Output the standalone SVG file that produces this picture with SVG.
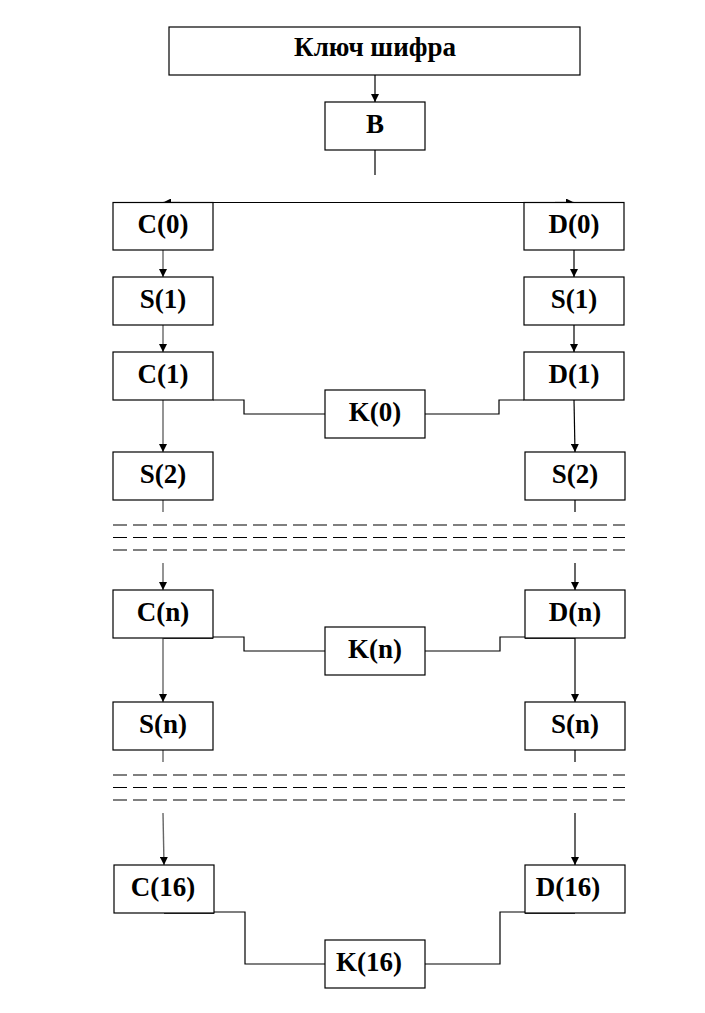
<svg xmlns="http://www.w3.org/2000/svg" width="705" height="1013" viewBox="0 0 705 1013">
<defs>
<style>
.box{fill:#fff;stroke:#000;stroke-width:1.2}
.ln{fill:none;stroke:#000;stroke-width:1.2}
.lg{fill:none;stroke:#666;stroke-width:1.4}
.ar{marker-end:url(#ah)}
.dash{fill:none;stroke:#000;stroke-width:1.2;stroke-dasharray:14 6}
.th{stroke:#000;stroke-width:2.4}
</style>
<marker id="ah" viewBox="0 0 10 10" refX="10" refY="5" markerWidth="8" markerHeight="8" markerUnits="userSpaceOnUse" orient="auto">
<path d="M0,0 L10,5 L0,10 Z" fill="#000"/>
</marker>
</defs>
<rect width="705" height="1013" fill="#fff"/>
<g id="connectors">
<line class="ln ar" x1="375" y1="75" x2="375" y2="102"/>
<line class="ln" x1="375" y1="150" x2="375" y2="175"/>
<line class="ln" x1="170" y1="202.5" x2="568" y2="202.5"/>
<line class="ln ar" x1="180" y1="202.5" x2="163" y2="202.5"/>
<line class="ln ar" x1="555" y1="202.5" x2="574" y2="202.5"/>
<line class="lg ar" x1="163" y1="250" x2="163" y2="277"/>
<line class="ln ar" x1="574" y1="250" x2="574" y2="277"/>
<line class="lg ar" x1="163" y1="325" x2="163" y2="352"/>
<line class="ln ar" x1="574" y1="325" x2="574" y2="352"/>
<polyline class="ln" points="213,400 244,400 244,414 325,414"/>
<polyline class="ln" points="425,414 499,414 499,400 524,400"/>
<line class="lg ar" x1="163" y1="400" x2="163" y2="452"/>
<line class="ln ar" x1="574" y1="400" x2="575" y2="452"/>
<line class="lg" x1="163" y1="500" x2="163" y2="512"/>
<line class="ln" x1="575" y1="500" x2="575" y2="512"/>
<line class="dash" x1="113" y1="525" x2="625" y2="525"/>
<line class="dash" x1="113" y1="537.5" x2="625" y2="537.5"/>
<line class="dash" x1="113" y1="550" x2="625" y2="550"/>
<line class="lg ar" x1="163" y1="563" x2="163" y2="590"/>
<line class="ln ar" x1="575" y1="563" x2="575" y2="590"/>
<polyline class="ln" points="213,637 244,637 244,651 325,651"/>
<polyline class="ln" points="425,651 500,651 500,637 525,637"/>
<line class="th" x1="163" y1="637.5" x2="213" y2="637.5"/>
<line class="th" x1="525" y1="637.5" x2="575" y2="637.5"/>
<line class="lg ar" x1="163" y1="638" x2="163" y2="702"/>
<line class="ln ar" x1="575" y1="638" x2="575" y2="702"/>
<line class="lg" x1="163" y1="750" x2="163" y2="762"/>
<line class="ln" x1="575" y1="750" x2="575" y2="762"/>
<line class="dash" x1="113" y1="775" x2="625" y2="775"/>
<line class="dash" x1="113" y1="787.5" x2="625" y2="787.5"/>
<line class="dash" x1="113" y1="800" x2="625" y2="800"/>
<line class="lg ar" x1="163" y1="813" x2="164" y2="865"/>
<line class="ln ar" x1="575" y1="813" x2="575" y2="865"/>
<polyline class="ln" points="214,912 245,912 245,964 325,964"/>
<polyline class="ln" points="425,964 500,964 500,912 525,912"/>
<line class="th" x1="164" y1="912.5" x2="214" y2="912.5"/>
<line class="th" x1="525" y1="912.5" x2="575" y2="912.5"/>
</g>
<g font-family="Liberation Serif, Times New Roman, serif" font-weight="bold" font-size="27" text-anchor="middle" fill="#000">
<g id="key"><rect class="box" x="169" y="27" width="411" height="48"/><text x="375" y="56">Ключ шифра</text></g>
<g id="B"><rect class="box" x="325" y="102" width="100" height="48"/><text x="375" y="133">B</text></g>
<g id="C0"><rect class="box" x="113" y="202.5" width="100" height="47.5"/><text x="163" y="233">C(0)</text></g>
<g id="D0"><rect class="box" x="524" y="202.5" width="100" height="47.5"/><text x="574" y="233">D(0)</text></g>
<g id="S1L"><rect class="box" x="113" y="277" width="100" height="48"/><text x="163" y="308">S(1)</text></g>
<g id="S1R"><rect class="box" x="524" y="277" width="100" height="48"/><text x="574" y="308">S(1)</text></g>
<g id="C1"><rect class="box" x="113" y="352" width="100" height="48"/><text x="163" y="383">C(1)</text></g>
<g id="D1"><rect class="box" x="524" y="352" width="100" height="48"/><text x="574" y="383">D(1)</text></g>
<g id="K0"><rect class="box" x="325" y="390" width="100" height="48"/><text x="375" y="421">K(0)</text></g>
<g id="S2L"><rect class="box" x="113" y="452" width="100" height="48"/><text x="163" y="483">S(2)</text></g>
<g id="S2R"><rect class="box" x="525" y="452" width="100" height="48"/><text x="575" y="483">S(2)</text></g>
<g id="Cn"><rect class="box" x="113" y="590" width="100" height="48"/><text x="163" y="621">C(n)</text></g>
<g id="Dn"><rect class="box" x="525" y="590" width="100" height="48"/><text x="575" y="621">D(n)</text></g>
<g id="Kn"><rect class="box" x="325" y="627" width="100" height="48"/><text x="375" y="658">K(n)</text></g>
<g id="SnL"><rect class="box" x="113" y="702" width="100" height="48"/><text x="163" y="733">S(n)</text></g>
<g id="SnR"><rect class="box" x="525" y="702" width="100" height="48"/><text x="575" y="733">S(n)</text></g>
<g id="C16"><rect class="box" x="114" y="865" width="100" height="48"/><text x="163" y="896">C(16)</text></g>
<g id="D16"><rect class="box" x="525" y="865" width="100" height="48"/><text x="568" y="896">D(16)</text></g>
<g id="K16"><rect class="box" x="325" y="940" width="100" height="48"/><text x="369" y="971">K(16)</text></g>
</g>
</svg>
